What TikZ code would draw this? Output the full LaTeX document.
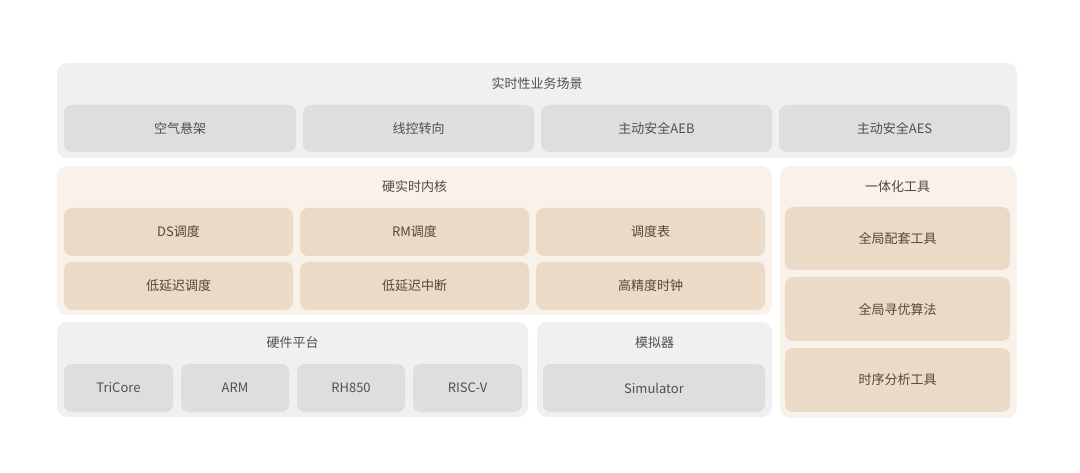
\documentclass[tikz,border=0pt]{standalone}
\usepackage{fontspec}
\setmainfont{Noto Sans CJK SC}
\definecolor{gpanel}{HTML}{F0F0F0}
\definecolor{gbox}{HTML}{DEDEDE}
\definecolor{gtext}{HTML}{505050}
\definecolor{bpanel}{HTML}{F8F2EA}
\definecolor{bbox}{HTML}{EBDAC5}
\definecolor{btext}{HTML}{57473A}
\tikzset{
  panelg/.style={fill=gpanel, rounded corners=10pt, inner sep=0pt, outer sep=0pt, anchor=north west},
  panelb/.style={fill=bpanel, rounded corners=10pt, inner sep=0pt, outer sep=0pt, anchor=north west},
  boxg/.style={fill=gbox, rounded corners=8pt, inner sep=0pt, outer sep=0pt, anchor=north west, text=gtext, font=\fontsize{13pt}{15pt}\selectfont},
  boxb/.style={fill=bbox, rounded corners=8pt, inner sep=0pt, outer sep=0pt, anchor=north west, text=btext, font=\fontsize{13pt}{15pt}\selectfont},
  titleg/.style={text=gtext, font=\fontsize{13pt}{15pt}\selectfont, inner sep=0pt},
  titleb/.style={text=btext, font=\fontsize{13pt}{15pt}\selectfont, inner sep=0pt},
}
\newcommand{\pbox}[7]{% style, name, x1, y1, x2, y2, text
  \node[#1, minimum width={(#5-#3)*1pt}, minimum height={(#6-#4)*1pt}] (#2) at (#3,#4) {};
  \node[#1, fill=none, anchor=center] at (#2.center) {#7};
}
\begin{document}
\begin{tikzpicture}[x=1pt,y=-1pt]
\useasboundingbox[fill=white] (0,0) rectangle (1080,473);
% top panel
\node[panelg, minimum width=960pt, minimum height=95pt] (scene) at (57,63) {};
\node[titleg] (scenet) at (537,84) {实时性业务场景};
\pbox{boxg}{s1}{64}{105}{296}{152}{空气悬架}
\pbox{boxg}{s2}{303}{105}{534}{152}{线控转向}
\pbox{boxg}{s3}{541}{105}{772}{152}{主动安全AEB}
\pbox{boxg}{s4}{779}{105}{1010}{152}{主动安全AES}
% kernel panel
\node[panelb, minimum width=715pt, minimum height=149pt] (kernel) at (57,166) {};
\node[titleb] (kernelt) at (414.5,187) {硬实时内核};
\pbox{boxb}{k1}{64}{208}{293}{256}{DS调度}
\pbox{boxb}{k2}{300}{208}{529}{256}{RM调度}
\pbox{boxb}{k3}{536}{208}{765}{256}{调度表}
\pbox{boxb}{k4}{64}{262}{293}{310}{低延迟调度}
\pbox{boxb}{k5}{300}{262}{529}{310}{低延迟中断}
\pbox{boxb}{k6}{536}{262}{765}{310}{高精度时钟}
% tools panel
\node[panelb, minimum width=237pt, minimum height=252pt] (tools) at (780,166) {};
\node[titleb] (toolst) at (897.5,187) {一体化工具};
\pbox{boxb}{t1}{785}{207}{1010}{270}{全局配套工具}
\pbox{boxb}{t2}{785}{277}{1010}{341}{全局寻优算法}
\pbox{boxb}{t3}{785}{348}{1010}{412}{时序分析工具}
% hardware panel
\node[panelg, minimum width=471pt, minimum height=95pt] (hw) at (57,322) {};
\node[titleg] (hwt) at (292.5,343) {硬件平台};
\pbox{boxg}{h1}{64}{364}{173}{412}{TriCore}
\pbox{boxg}{h2}{181}{364}{289}{412}{ARM}
\pbox{boxg}{h3}{297}{364}{405}{412}{RH850}
\pbox{boxg}{h4}{413}{364}{522}{412}{RISC-V}
% simulator panel
\node[panelg, minimum width=235pt, minimum height=95pt] (sim) at (537,322) {};
\node[titleg] (simt) at (654.5,343) {模拟器};
\pbox{boxg}{m1}{543}{364}{765}{412}{Simulator}
\end{tikzpicture}
\end{document}
